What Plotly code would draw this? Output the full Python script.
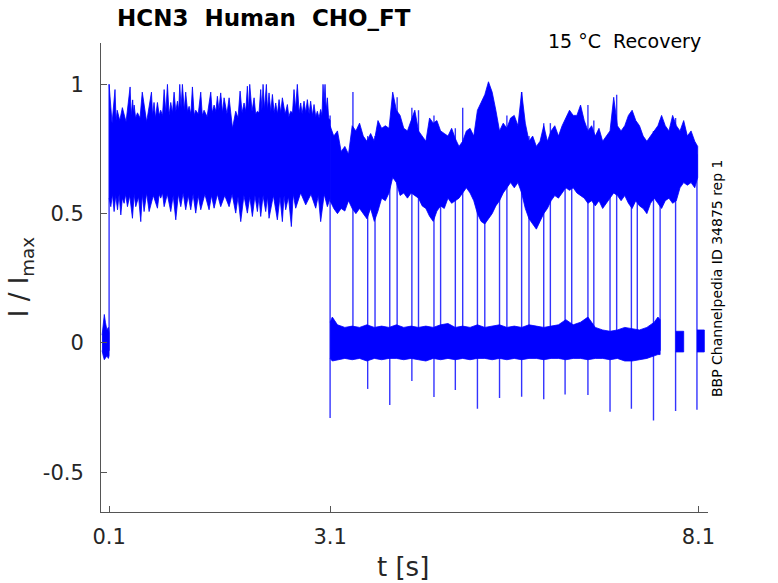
import plotly.graph_objects as go

# --- values (t in s, normalised current I/Imax) ---

# holding segment before the prepulse
base_t = [0.005, 0.02, 0.035, 0.05, 0.07, 0.09, 0.10]
base_hi = [0.03, 0.06, 0.11, 0.08, 0.05, 0.06, 0.04]
base_lo = [-0.03, -0.05, -0.065, -0.06, -0.05, -0.06, -0.05]

# prepulse 0.1 - 3.1 s : noise peaks and the gaps between them (top edge)
peak_t = [0.10, 0.18, 0.21, 0.28, 0.385, 0.42, 0.44, 0.485, 0.55, 0.675, 0.71, 0.756, 0.80,
          0.847, 0.892, 0.937, 0.982, 1.028, 1.059, 1.095, 1.14, 1.186, 1.231, 1.276, 1.344,
          1.389, 1.48, 1.525, 1.57, 1.615, 1.661, 1.729, 1.819, 1.878, 1.932, 1.977, 2.009,
          2.068, 2.113, 2.158, 2.19, 2.235, 2.271, 2.317, 2.362, 2.407, 2.452, 2.52, 2.565,
          2.61, 2.655, 2.701, 2.746, 2.791, 2.836, 2.882, 2.927, 2.972, 3.004, 3.031, 3.063]
peak_v = [1.00, 0.98, 0.90, 0.91, 0.99, 0.94, 0.92, 0.89, 0.97, 0.97, 0.93, 0.93, 0.90,
          0.98, 1.00, 0.93, 0.97, 0.935, 1.00, 1.00, 0.97, 0.915, 0.99, 0.90, 0.97,
          0.90, 0.97, 0.92, 0.954, 0.967, 0.948, 0.948, 0.896, 0.974, 0.928, 0.993, 1.00,
          0.948, 0.896, 0.98, 1.00, 1.00, 0.967, 0.961, 0.928, 0.941, 0.948, 0.922, 0.896,
          0.98, 1.00, 0.928, 0.935, 0.941, 0.935, 0.922, 0.896, 0.903, 1.00, 1.00, 0.948]
gap_t = [0.14, 0.195, 0.245, 0.33, 0.40, 0.43, 0.46, 0.52, 0.61, 0.69, 0.73, 0.78, 0.825,
         0.87, 0.915, 0.96, 1.005, 1.045, 1.077, 1.12, 1.165, 1.21, 1.255, 1.31, 1.365,
         1.43, 1.50, 1.55, 1.59, 1.64, 1.70, 1.775, 1.85, 1.905, 1.955, 1.993, 2.04, 2.09,
         2.135, 2.175, 2.21, 2.25, 2.295, 2.34, 2.385, 2.43, 2.49, 2.54, 2.59, 2.632, 2.68,
         2.72, 2.77, 2.815, 2.86, 2.905, 2.95, 2.99, 3.018, 3.047, 3.08, 3.10]
gap_v = [0.85, 0.86, 0.86, 0.855, 0.88, 0.89, 0.87, 0.87, 0.855, 0.88, 0.87, 0.88, 0.88,
         0.89, 0.88, 0.89, 0.895, 0.90, 0.91, 0.90, 0.895, 0.885, 0.88, 0.885, 0.88,
         0.875, 0.89, 0.895, 0.90, 0.89, 0.885, 0.83, 0.87, 0.89, 0.895, 0.90, 0.895, 0.885,
         0.89, 0.90, 0.905, 0.90, 0.895, 0.89, 0.885, 0.89, 0.885, 0.875, 0.89, 0.905, 0.89,
         0.885, 0.89, 0.885, 0.88, 0.875, 0.87, 0.88, 0.93, 0.90, 0.87, 0.86]

# prepulse bottom edge: downward noise dips and the solid floor between them
dip_t = [0.123, 0.168, 0.214, 0.259, 0.304, 0.349, 0.417, 0.462, 0.53, 0.575, 0.643, 0.756,
         0.801, 0.847, 0.937, 1.005, 1.073, 1.14, 1.208, 1.276, 1.344, 1.457, 1.525, 1.615,
         1.729, 1.819, 1.887, 1.977, 2.045, 2.113, 2.158, 2.226, 2.271, 2.384, 2.452, 2.497,
         2.574, 2.633, 2.769, 2.905, 2.972, 3.063]
dip_v = [0.527, 0.508, 0.515, 0.495, 0.54, 0.527, 0.482, 0.527, 0.469, 0.508, 0.508, 0.521,
         0.56, 0.527, 0.508, 0.476, 0.527, 0.515, 0.515, 0.502, 0.515, 0.515, 0.521, 0.527,
         0.527, 0.502, 0.469, 0.502, 0.489, 0.508, 0.489, 0.508, 0.482, 0.476, 0.469, 0.515,
         0.45, 0.521, 0.534, 0.521, 0.469, 0.527]
floor_t = [0.10, 0.145, 0.19, 0.236, 0.28, 0.325, 0.38, 0.44, 0.50, 0.55, 0.61, 0.70, 0.78,
           0.825, 0.89, 0.97, 1.04, 1.105, 1.175, 1.24, 1.31, 1.40, 1.49, 1.57, 1.67, 1.77,
           1.85, 1.93, 2.01, 2.08, 2.135, 2.19, 2.25, 2.33, 2.42, 2.475, 2.535, 2.60, 2.70,
           2.84, 2.94, 3.02, 3.10]
floor_v = [0.56, 0.575, 0.57, 0.575, 0.56, 0.575, 0.57, 0.575, 0.565, 0.575, 0.58, 0.57, 0.575,
           0.58, 0.575, 0.57, 0.575, 0.58, 0.57, 0.575, 0.57, 0.575, 0.57, 0.575, 0.57, 0.575,
           0.565, 0.57, 0.565, 0.57, 0.565, 0.57, 0.565, 0.57, 0.565, 0.57, 0.565, 0.575, 0.58,
           0.575, 0.57, 0.575, 0.56]

# test (re-activation) traces after 3.1 s
test_t = [3.10, 3.15, 3.20, 3.25, 3.30, 3.35, 3.40, 3.45, 3.50, 3.55, 3.60, 3.65, 3.70, 3.75,
          3.80, 3.85, 3.90, 3.95, 4.00, 4.05, 4.10, 4.15, 4.20, 4.25, 4.30, 4.35, 4.40, 4.45,
          4.50, 4.55, 4.60, 4.65, 4.70, 4.75, 4.80, 4.85, 4.90, 4.95, 5.00, 5.05, 5.10, 5.15,
          5.20, 5.25, 5.30, 5.35, 5.40, 5.45, 5.50, 5.55, 5.60, 5.65, 5.70, 5.75, 5.80, 5.85,
          5.90, 5.95, 6.00, 6.05, 6.10, 6.15, 6.20, 6.25, 6.30, 6.35, 6.40, 6.45, 6.50, 6.55,
          6.60, 6.65, 6.70, 6.75, 6.80, 6.85, 6.90, 6.95, 7.00, 7.05, 7.10, 7.15, 7.20, 7.25,
          7.30, 7.35, 7.40, 7.45, 7.50, 7.55, 7.60, 7.65, 7.70, 7.75, 7.80, 7.85, 7.90, 7.95,
          8.00, 8.05, 8.09]
test_hi = [0.84, 0.80, 0.82, 0.74, 0.76, 0.73, 0.84, 0.82, 0.85, 0.80, 0.78, 0.81, 0.78, 0.86,
           0.83, 0.84, 0.83, 0.97, 0.90, 0.88, 0.83, 0.82, 0.86, 0.90, 0.82, 0.80, 0.78, 0.87,
           0.85, 0.86, 0.82, 0.81, 0.80, 0.83, 0.79, 0.76, 0.78, 0.82, 0.83, 0.80, 0.90, 0.93,
           0.96, 1.01, 0.97, 0.90, 0.82, 0.85, 0.83, 0.87, 0.88, 0.84, 0.97, 0.85, 0.78, 0.80,
           0.76, 0.78, 0.84, 0.78, 0.82, 0.84, 0.80, 0.84, 0.87, 0.90, 0.88, 0.88, 0.92, 0.86,
           0.82, 0.84, 0.80, 0.83, 0.78, 0.80, 0.82, 0.95, 0.84, 0.82, 0.84, 0.88, 0.90, 0.86,
           0.84, 0.80, 0.78, 0.80, 0.82, 0.84, 0.88, 0.84, 0.82, 0.88, 0.84, 0.82, 0.86, 0.80,
           0.82, 0.78, 0.76]
test_lo = [0.55, 0.52, 0.50, 0.52, 0.51, 0.55, 0.52, 0.50, 0.52, 0.50, 0.48, 0.52, 0.47, 0.51,
           0.56, 0.55, 0.58, 0.64, 0.62, 0.57, 0.58, 0.56, 0.58, 0.57, 0.56, 0.53, 0.52, 0.49,
           0.47, 0.51, 0.53, 0.52, 0.56, 0.54, 0.55, 0.56, 0.58, 0.60, 0.58, 0.55, 0.50, 0.47,
           0.46, 0.48, 0.50, 0.53, 0.55, 0.58, 0.60, 0.62, 0.60, 0.62, 0.58, 0.52, 0.48, 0.46,
           0.44, 0.47, 0.50, 0.52, 0.55, 0.57, 0.56, 0.58, 0.60, 0.59, 0.60, 0.58, 0.57, 0.56,
           0.54, 0.55, 0.53, 0.55, 0.52, 0.54, 0.56, 0.58, 0.57, 0.55, 0.57, 0.54, 0.52, 0.55,
           0.53, 0.52, 0.50, 0.54, 0.56, 0.54, 0.52, 0.55, 0.56, 0.54, 0.55, 0.60, 0.62, 0.61,
           0.62, 0.60, 0.64]

# deactivated (0 level) traces after 3.1 s
hold_t = [3.10, 3.13, 3.20, 3.30, 3.40, 3.50, 3.60, 3.70, 3.80, 3.90, 4.00, 4.10, 4.20, 4.30,
          4.40, 4.50, 4.60, 4.70, 4.80, 4.90, 5.00, 5.10, 5.20, 5.30, 5.40, 5.50, 5.60, 5.70,
          5.80, 5.90, 6.00, 6.10, 6.20, 6.30, 6.40, 6.50, 6.60, 6.70, 6.80, 6.90, 7.00, 7.10,
          7.20, 7.30, 7.40, 7.50, 7.55, 7.58]
hold_hi = [0.08, 0.10, 0.07, 0.06, 0.065, 0.06, 0.07, 0.06, 0.065, 0.06, 0.07, 0.06, 0.065, 0.06,
           0.065, 0.06, 0.07, 0.075, 0.06, 0.065, 0.06, 0.07, 0.06, 0.065, 0.07, 0.06, 0.065, 0.06,
           0.07, 0.065, 0.06, 0.065, 0.07, 0.09, 0.07, 0.08, 0.10, 0.06, 0.05, 0.045, 0.05, 0.06,
           0.055, 0.05, 0.06, 0.08, 0.10, 0.09]
hold_lo = [-0.06, -0.07, -0.065, -0.06, -0.065, -0.06, -0.07, -0.06, -0.065, -0.06, -0.06, -0.065,
           -0.06, -0.065, -0.07, -0.06, -0.065, -0.06, -0.065, -0.06, -0.065, -0.06, -0.06, -0.065,
           -0.06, -0.065, -0.06, -0.065, -0.06, -0.06, -0.065, -0.06, -0.06, -0.065, -0.06, -0.06,
           -0.065, -0.06, -0.06, -0.065, -0.06, -0.07, -0.07, -0.065, -0.06, -0.05, -0.045, -0.045]

tail_start = [7.79, 8.08]
tail_end = [7.90, 8.18]
tail_hi = [0.045, 0.05]
tail_lo = [-0.035, -0.035]

# voltage-step transitions (vertical strokes)
step_t = [0.10, 3.10, 3.41, 3.61, 3.71, 3.91, 4.01, 4.21, 4.30, 4.51, 4.60, 4.80, 4.90, 5.10,
          5.20, 5.40, 5.50, 5.70, 5.80, 6.00, 6.09, 6.29, 6.38, 6.60, 6.68, 6.90, 6.99, 7.19,
          7.27, 7.49, 7.58, 7.79, 8.08]
step_lo = [-0.03, -0.29, -0.02, -0.178, -0.03, -0.24, -0.03, -0.147, -0.03, -0.209, -0.03,
           -0.182, -0.03, -0.255, -0.03, -0.213, -0.03, -0.208, -0.03, -0.218, -0.03, -0.20,
           -0.03, -0.201, -0.03, -0.266, -0.03, -0.255, -0.03, -0.30, -0.03, -0.263, -0.259]
step_hi = [1.00, 0.88, 0.97, 0.80, 0.80, 0.70, 0.95, 0.91, 0.90, 0.88, 0.82, 0.83, 0.91, 0.75,
           0.78, 0.82, 0.88, 0.97, 0.80, 0.85, 0.85, 0.82, 0.82, 0.92, 0.86, 0.75, 0.96, 0.82,
           0.84, 0.82, 0.86, 0.87, 0.73]

x_ticks = [0.1, 3.1, 8.1]
y_ticks = [-0.5, 0, 0.5, 1]

BLUE = "#0000ff"
AXIS = "#555555"
TEXT = "#262626"
FONT = "DejaVu Sans"


def band(t, hi, lo):
    return list(t) + list(t)[::-1], list(hi) + list(lo)[::-1]


def merged(t1, v1, t2, v2):
    pts = sorted(zip(list(t1) + list(t2), list(v1) + list(v2)))
    return [p[0] for p in pts], [p[1] for p in pts]


fig = go.Figure()

top_t, top_v = merged(peak_t, peak_v, gap_t, gap_v)
bot_t, bot_v = merged(dip_t, dip_v, floor_t, floor_v)

polys = [band(base_t, base_hi, base_lo),
         (top_t + bot_t[::-1], top_v + bot_v[::-1]),
         band(test_t, test_hi, test_lo),
         band(hold_t, hold_hi, hold_lo)]
for s, e, h, l in zip(tail_start, tail_end, tail_hi, tail_lo):
    polys.append(band([s, e], [h, h], [l, l]))

for px, py in polys:
    fig.add_trace(go.Scatter(x=px, y=py, mode="lines", fill="toself",
                             fillcolor=BLUE, line=dict(color=BLUE, width=0.8)))

# step transitions
vx, vy = [], []
for t, lo, hi in zip(step_t, step_lo, step_hi):
    vx += [t, t, None]
    vy += [lo, hi, None]
fig.add_trace(go.Scatter(x=vx, y=vy, mode="lines",
                         line=dict(color="rgba(0,0,255,0.8)", width=1.4)))

axis_common = dict(showline=True, linecolor=AXIS, linewidth=1, ticks="inside", ticklen=6,
                   tickcolor=AXIS, showgrid=False, zeroline=False,
                   tickfont=dict(family=FONT, size=21, color=TEXT))

fig.update_xaxes(range=[-0.01, 8.23], tickvals=x_ticks,
                 ticktext=[str(v) for v in x_ticks], ticklabelstandoff=6, **axis_common)
fig.update_yaxes(range=[-0.654, 1.16], tickvals=y_ticks,
                 ticktext=["-0.5", "0", "0.5", "1"], ticklabelstandoff=12, **axis_common)

fig.update_layout(
    width=778, height=583,
    margin=dict(l=101, r=70, t=43, b=71),
    plot_bgcolor="white", paper_bgcolor="white",
    showlegend=False, hovermode=False,
    font=dict(family=FONT, color=TEXT),
    annotations=[
        dict(text="<b>HCN3  Human  CHO_FT</b>", xref="paper", yref="paper",
             x=0.023, y=1.053, xanchor="left", yanchor="middle", showarrow=False,
             font=dict(size=23, color="black")),
        dict(text="15 °C  Recovery", xref="paper", yref="paper",
             x=0.992, y=1.004, xanchor="right", yanchor="middle", showarrow=False,
             font=dict(size=19, color="black")),
        dict(text="BBP Channelpedia ID 34875 rep 1", xref="paper", yref="paper",
             x=1.015, y=0.499, xanchor="center", yanchor="middle", showarrow=False,
             textangle=-90, font=dict(size=14, color="black")),
        dict(text="t [s]", xref="paper", yref="paper", x=0.4975, y=-0.117,
             xanchor="center", yanchor="middle", showarrow=False,
             font=dict(size=26, color=TEXT)),
        dict(text="I / I<sub>max</sub>", xref="paper", yref="paper", x=-0.133, y=0.501,
             xanchor="center", yanchor="middle", showarrow=False, textangle=-90,
             font=dict(size=26, color=TEXT)),
    ],
)

# drop the browser's default 8 px body margin so the figure fills the window exactly
fig.write_html("out.html", config={"displayModeBar": False},
               post_script="document.body.style.margin='0';document.body.style.overflow='hidden';")
